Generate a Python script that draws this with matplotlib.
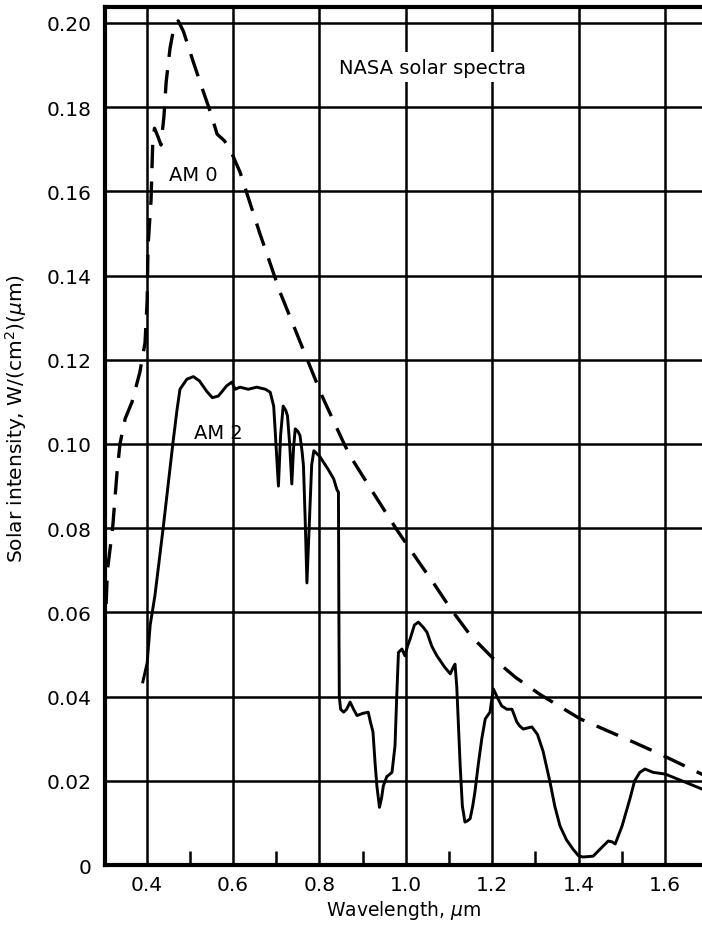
import matplotlib
matplotlib.use("Agg")
import matplotlib.pyplot as plt
import numpy as np

plt.rcParams['font.family'] = ['DejaVu Sans']

# AM0 (NASA extraterrestrial) - dashed
am0_wl = [0.306, 0.309, 0.321, 0.331, 0.338, 0.350, 0.366, 0.384, 0.396, 0.401,
          0.403, 0.410, 0.414, 0.418, 0.426, 0.433, 0.440, 0.445, 0.454, 0.463,
          0.473, 0.485, 0.507, 0.530, 0.547, 0.563, 0.580, 0.593, 0.616, 0.662,
          0.709, 0.772, 0.806, 0.855, 0.872, 0.924, 0.980, 1.030, 1.064, 1.103,
          1.150, 1.203, 1.255, 1.311, 1.404, 1.527, 1.596, 1.687]
am0_val = [0.062, 0.070, 0.080, 0.093, 0.100, 0.106, 0.110, 0.117, 0.124, 0.134,
           0.147, 0.158, 0.172, 0.175, 0.173, 0.171, 0.178, 0.186, 0.194, 0.199,
           0.2005, 0.198, 0.191, 0.184, 0.179, 0.1736, 0.172, 0.170, 0.1646, 0.150,
           0.136, 0.120, 0.1114, 0.1005, 0.097, 0.0885, 0.0795, 0.072, 0.067, 0.061,
           0.0545, 0.049, 0.0445, 0.0405, 0.0347, 0.0292, 0.026, 0.0215]

# AM2 - solid
am2_wl = [0.391, 0.401, 0.408, 0.419, 0.438, 0.461, 0.470, 0.477, 0.493, 0.508,
          0.522, 0.539, 0.552, 0.566, 0.585, 0.597, 0.605, 0.616, 0.635, 0.655,
          0.675, 0.686, 0.694, 0.697, 0.705, 0.710, 0.716, 0.722, 0.726, 0.731,
          0.736, 0.740, 0.744, 0.750, 0.755, 0.760, 0.763, 0.767, 0.771, 0.776,
          0.782, 0.787, 0.801, 0.820, 0.833, 0.841, 0.844, 0.845, 0.846, 0.849,
          0.856, 0.863, 0.871, 0.879, 0.887, 0.900, 0.913, 0.918, 0.924, 0.929,
          0.933, 0.939, 0.944, 0.948, 0.956, 0.968, 0.975, 0.979, 0.983, 0.991,
          0.998, 1.004, 1.010, 1.020, 1.029, 1.040, 1.049, 1.060, 1.072, 1.090,
          1.103, 1.110, 1.114, 1.118, 1.122, 1.126, 1.131, 1.137, 1.143, 1.149,
          1.155, 1.160, 1.168, 1.176, 1.184, 1.195, 1.200, 1.203, 1.211, 1.222,
          1.234, 1.246, 1.257, 1.264, 1.272, 1.292, 1.305, 1.318, 1.334, 1.345,
          1.357, 1.372, 1.387, 1.400, 1.410, 1.434, 1.457, 1.469, 1.478, 1.485,
          1.501, 1.519, 1.530, 1.542, 1.554, 1.573, 1.601, 1.687]
am2_val = [0.0435, 0.048, 0.057, 0.064, 0.080, 0.1005, 0.108, 0.113, 0.1154, 0.116,
           0.115, 0.1125, 0.111, 0.1114, 0.1138, 0.1147, 0.113, 0.1135, 0.113, 0.1135,
           0.113, 0.1123, 0.109, 0.104, 0.090, 0.102, 0.109, 0.108, 0.1067, 0.100,
           0.0905, 0.099, 0.1036, 0.103, 0.102, 0.098, 0.0948, 0.082, 0.067, 0.080,
           0.095, 0.0984, 0.097, 0.094, 0.0917, 0.089, 0.0886, 0.060, 0.040, 0.037,
           0.0363, 0.037, 0.0387, 0.037, 0.0355, 0.036, 0.0363, 0.034, 0.0316, 0.024,
           0.0188, 0.0137, 0.016, 0.0188, 0.021, 0.022, 0.0283, 0.040, 0.0505, 0.0513,
           0.0497, 0.052, 0.0537, 0.057, 0.0577, 0.0565, 0.0553, 0.052, 0.0497, 0.047,
           0.0454, 0.047, 0.0477, 0.0425, 0.033, 0.0235, 0.014, 0.0102, 0.0105, 0.011,
           0.014, 0.0173, 0.024, 0.030, 0.0347, 0.0363, 0.040, 0.0418, 0.040, 0.0378,
           0.037, 0.037, 0.034, 0.033, 0.0323, 0.0328, 0.031, 0.027, 0.0197, 0.014,
           0.0093, 0.006, 0.0038, 0.0022, 0.0019, 0.0021, 0.0045, 0.0057, 0.0055, 0.005,
           0.0093, 0.0157, 0.020, 0.022, 0.0228, 0.022, 0.0216, 0.018]

x_major = [0.4, 0.6, 0.8, 1.0, 1.2, 1.4, 1.6]
x_labels = ["0.4", "0.6", "0.8", "1.0", "1.2", "1.4", "1.6"]
x_minor = [0.5, 0.7, 0.9, 1.1, 1.3, 1.5]
y_major = [0, 0.02, 0.04, 0.06, 0.08, 0.10, 0.12, 0.14, 0.16, 0.18, 0.20]
y_labels = ["0", "0.02", "0.04", "0.06", "0.08", "0.10", "0.12", "0.14", "0.16", "0.18", "0.20"]

fig = plt.figure(figsize=(7.02, 9.28), dpi=100)
ax = fig.add_axes([0.1496, 0.0668, 0.8504, 0.9246])
ax.set_xlim(0.3034, 1.686)
ax.set_ylim(0, 0.2038)

for xv in x_major:
    ax.axvline(xv, color='black', lw=1.8, zorder=1)
for yv in y_major[1:]:
    ax.axhline(yv, color='black', lw=1.8, zorder=1)

ax.plot(am0_wl, am0_val, color='black', lw=2.4, dashes=(7, 4), zorder=3)
ax.plot(am2_wl, am2_val, color='black', lw=2.1, zorder=3)

ax.set_xticks(x_major)
ax.set_xticklabels(x_labels)
ax.set_xticks(x_minor, minor=True)
ax.set_yticks(y_major)
ax.set_yticklabels(y_labels)
ax.tick_params(axis='x', which='major', length=0, labelsize=14.5, pad=7)
ax.tick_params(axis='x', which='minor', direction='in', length=10, width=1.8)
ax.tick_params(axis='y', which='major', length=0, labelsize=14.5, pad=10)

for side in ['left', 'bottom', 'top']:
    ax.spines[side].set_linewidth(3)
ax.spines['right'].set_visible(False)

ax.set_xlabel("Wavelength, $\\mu$m", fontsize=13.5, labelpad=3)
ax.set_ylabel("Solar intensity, W/(cm$^2$)($\\mu$m)", fontsize=14.5, labelpad=10)
ax.yaxis.set_label_coords(-0.128, 0.522)

ax.text(0.507, 0.164, "AM 0", fontsize=14, ha='center', va='center', zorder=4)
ax.text(0.566, 0.1028, "AM 2", fontsize=14, ha='center', va='center', zorder=4)
ax.text(1.061, 0.1895, "NASA solar spectra", fontsize=14, ha='center', va='center',
        zorder=4, bbox=dict(facecolor='white', edgecolor='none', pad=4))

fig.savefig("out.png", dpi=100)
